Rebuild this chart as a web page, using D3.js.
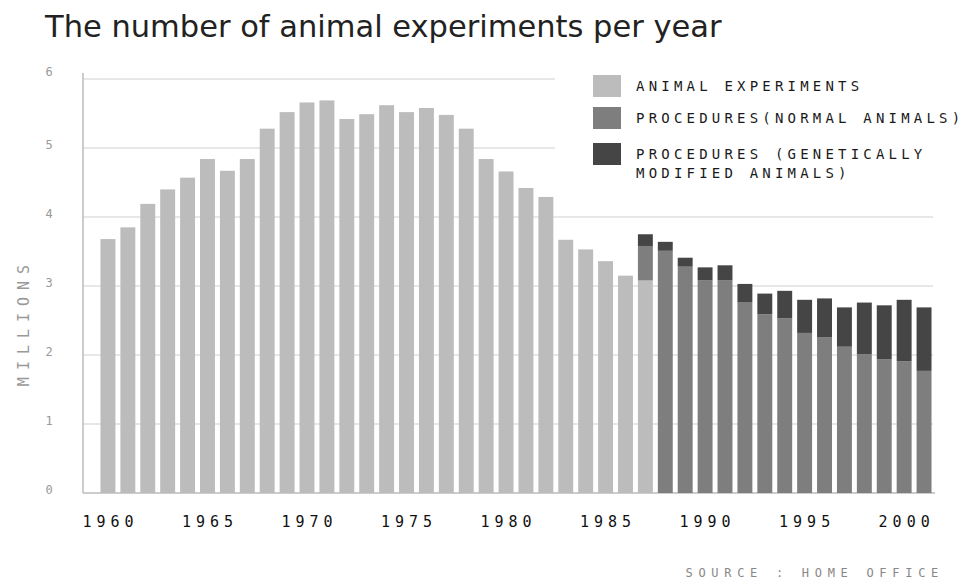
<!DOCTYPE html>
<html>
<head>
<meta charset="utf-8">
<script src="https://cdn.jsdelivr.net/npm/d3@7"></script>
<style>
body { margin: 0; background: #fff; }
.axisLabel { font-family: "DejaVu Sans Mono", monospace; font-size: 15px; fill: #111; letter-spacing: 5px; }
.legendLabel { font-family: "DejaVu Sans Mono", monospace; font-size: 14px; fill: #1a1a1a; letter-spacing: 4.2px; }
</style>
</head>
<body>
<div id="main"></div>
<script>
// years on the x axis
const years = [1960, 1961, 1962, 1963, 1964, 1965, 1966, 1967, 1968, 1969,
  1970, 1971, 1972, 1973, 1974, 1975, 1976, 1977, 1978, 1979,
  1980, 1981, 1982, 1983, 1984, 1985, 1986, 1987, 1988, 1989,
  1990, 1991, 1992, 1993, 1994, 1995, 1996, 1997, 1998, 1999,
  2000, 2001]

// millions
const animalExperiments = [3.68, 3.85, 4.19, 4.40, 4.57, 4.84, 4.67, 4.84, 5.28, 5.52,
  5.66, 5.69, 5.42, 5.49, 5.62, 5.52, 5.58, 5.48, 5.28, 4.84,
  4.66, 4.42, 4.29, 3.67, 3.53, 3.36, 3.15, 3.08, 0, 0,
  0, 0, 0, 0, 0, 0, 0, 0, 0, 0,
  0, 0]
const proceduresNormal = [0, 0, 0, 0, 0, 0, 0, 0, 0, 0,
  0, 0, 0, 0, 0, 0, 0, 0, 0, 0,
  0, 0, 0, 0, 0, 0, 0, 0.50, 3.51, 3.28,
  3.08, 3.08, 2.76, 2.59, 2.53, 2.32, 2.26, 2.12, 2.01, 1.94,
  1.91, 1.77]
const proceduresGM = [0, 0, 0, 0, 0, 0, 0, 0, 0, 0,
  0, 0, 0, 0, 0, 0, 0, 0, 0, 0,
  0, 0, 0, 0, 0, 0, 0, 0.17, 0.13, 0.13,
  0.19, 0.22, 0.27, 0.30, 0.40, 0.48, 0.56, 0.57, 0.75, 0.78,
  0.89, 0.92]

const labelYears = [1960, 1965, 1970, 1975, 1980, 1985, 1990, 1995, 2000]
const yTicks = [0, 1, 2, 3, 4, 5, 6]

const legendLabels = [["ANIMAL EXPERIMENTS"], ["PROCEDURES(NORMAL ANIMALS)"], ["PROCEDURES (GENETICALLY", "MODIFIED ANIMALS)"]]
const keys = ["animal", "normal", "gm"]
const colors = ["#bcbcbc", "#7e7e7e", "#454545"]

const width = 968
const height = 581

const table = years.map((y, i) => ({year: y, animal: animalExperiments[i], normal: proceduresNormal[i], gm: proceduresGM[i]}))
const stacked = d3.stack().keys(keys)(table)

const scaleX = d3.scaleBand().domain(years).range([98, 934]).paddingInner(0.25).paddingOuter(0.125)
const scaleY = d3.scaleLinear().domain([0, 6]).range([493, 79])
const color = d3.scaleOrdinal().domain(keys).range(colors)

const svg = d3.select('#main').append('svg').attr("width", width).attr("height", height)

// title
svg.append('text').attr("x", 45).attr("y", 37).text("The number of animal experiments per year")
  .attr("font-family", "DejaVu Sans").attr("font-size", 30.5).attr("fill", "#222")

// grid lines (top two stop at the legend)
svg.selectAll(".grid").data(yTicks.filter(d => d > 0)).enter().append('line')
  .attr("x1", 83).attr("x2", d => d >= 5 ? 555 : 933)
  .attr("y1", d => scaleY(d)).attr("y2", d => scaleY(d))
  .attr("stroke", "#cfcfcf").attr("stroke-width", 1.2)

// y axis line + baseline
svg.append('line').attr("x1", 83).attr("x2", 83).attr("y1", 73).attr("y2", scaleY(0)).attr("stroke", "#bbb").attr("stroke-width", 1.5)
svg.append('line').attr("x1", 83).attr("x2", 935).attr("y1", scaleY(0)).attr("y2", scaleY(0)).attr("stroke", "#bbb").attr("stroke-width", 1.5)

// bars
const layers = svg.selectAll(".layer").data(stacked).enter().append('g').attr("fill", d => color(d.key))
layers.selectAll('rect').data(d => d.filter(s => s[1] > s[0])).enter().append('rect')
  .attr("x", d => scaleX(d.data.year))
  .attr("y", d => scaleY(d[1]))
  .attr("width", scaleX.bandwidth())
  .attr("height", d => scaleY(d[0]) - scaleY(d[1]))

// y tick labels
svg.selectAll(".ylab").data(yTicks).enter().append('text')
  .attr("x", 49).attr("y", d => scaleY(d) - 3 - (d == 6 ? 4 : 0)).attr("dy", "0.35em")
  .attr("text-anchor", "middle").text(d => d)
  .attr("font-family", "DejaVu Sans Mono").attr("font-size", 12).attr("fill", "#999")

svg.append('text').attr("transform", "translate(29,322) rotate(-90)")
  .attr("text-anchor", "middle").text("MILLIONS")
  .attr("font-family", "DejaVu Sans Mono").attr("font-size", 15).attr("letter-spacing", 7).attr("fill", "#999")

// x labels
svg.selectAll(".xlab").data(labelYears).enter().append('text')
  .attr("x", d => scaleX(d) + scaleX.bandwidth() / 2 + 2.5).attr("y", 527)
  .attr("text-anchor", "middle").text(d => d).attr("class", "axisLabel")

// legend
const legend = svg.selectAll(".legend").data(legendLabels).enter().append('g')
  .attr("transform", (d, i) => `translate(593,${[75, 107, 143][i]})`)
legend.append('rect').attr("width", 28).attr("height", 22).attr("fill", (d, i) => colors[i])
legend.selectAll('text').data(d => d).enter().append('text')
  .attr("x", 43).attr("y", (d, i) => 15.5 + i * 19.5).text(d => d).attr("class", "legendLabel")

// source
svg.append('text').attr("x", 944).attr("y", 577).attr("text-anchor", "end").text("SOURCE : HOME OFFICE")
  .attr("font-family", "DejaVu Sans Mono").attr("font-size", 12).attr("letter-spacing", 5.7).attr("fill", "#888")
</script>
</body>
</html>
